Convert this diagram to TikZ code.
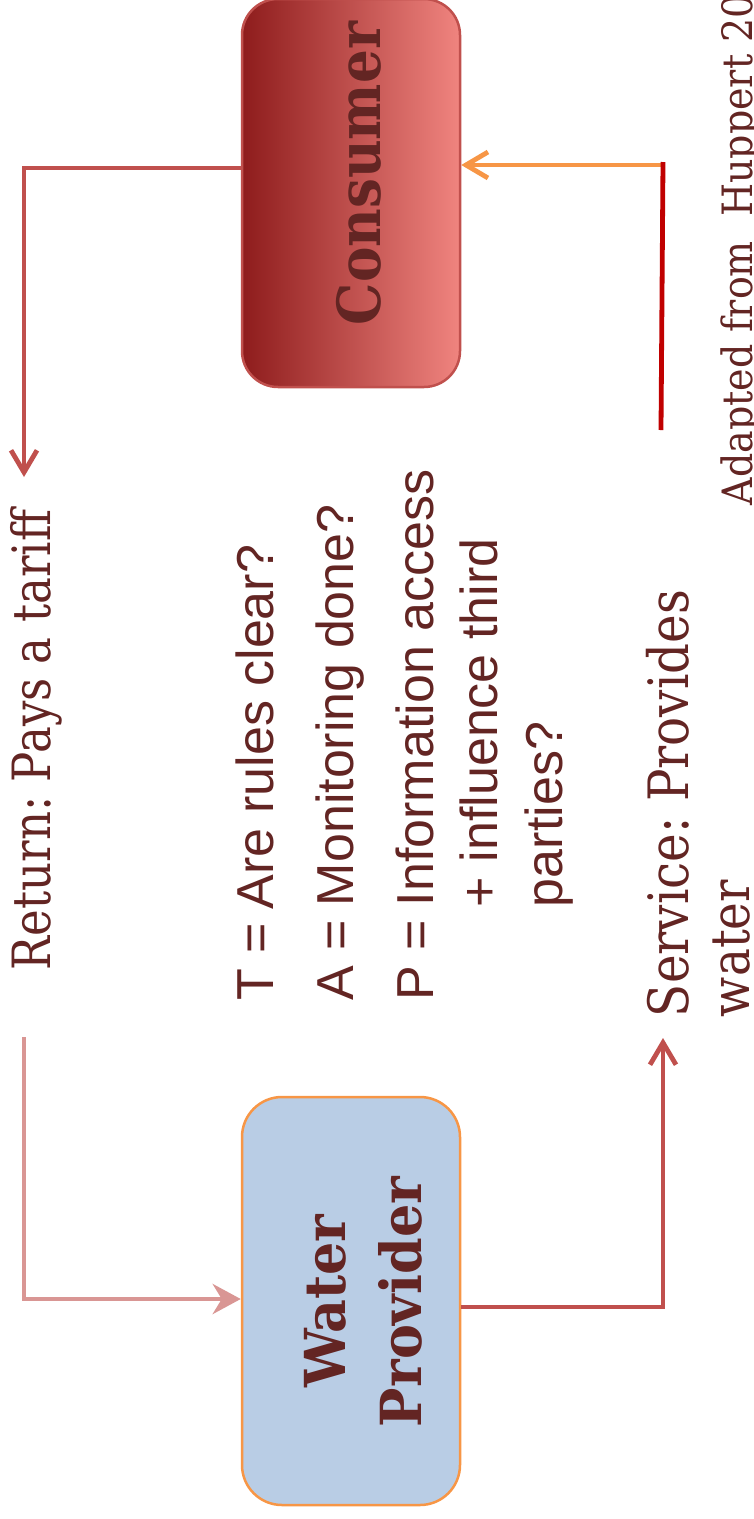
\documentclass[tikz,border=0pt]{standalone}
\usepackage{fontspec}
\usetikzlibrary{arrows.meta}
\newfontfamily\slabfont{DejaVu Serif}
\newfontfamily\tapfont{Liberation Sans}
\definecolor{txtc}{HTML}{632523}
\definecolor{redc}{HTML}{C0504D}
\definecolor{pinkc}{HTML}{D99694}
\definecolor{orangec}{HTML}{F79646}
\definecolor{darkredc}{HTML}{C00000}
\definecolor{bluefill}{HTML}{B9CDE5}
\definecolor{consdark}{HTML}{8E1C1C}
\definecolor{consmid}{HTML}{C45B5B}
\definecolor{conslight}{HTML}{F0847F}
\newcommand{\slabtext}[3]{\resizebox{#1}{!}{\scalebox{1}[#2]{\slabfont #3}}}
\begin{document}
\frenchspacing
\begin{tikzpicture}[x=1pt,y=-1pt,
  lbl/.style={inner sep=0pt, outer sep=0pt, rotate=90, anchor=base west, text=txtc},
  clbl/.style={inner sep=0pt, outer sep=0pt, rotate=90, anchor=base, text=txtc},
  consbox/.style={draw=redc, line width=2.5pt, rounded corners=36pt,
    minimum width=218pt, minimum height=388pt, inner sep=0pt,
    left color=consdark, middle color=consmid, right color=conslight},
  wpbox/.style={draw=orangec, line width=2.5pt, rounded corners=40pt,
    minimum width=218pt, minimum height=408pt, inner sep=0pt, fill=bluefill},
  redarr/.style={draw=redc, line width=4.8pt, -{Straight Barb[length=22pt,width=26pt]}},
  pinkarr/.style={draw=pinkc, line width=4.8pt, -{Stealth[length=28pt,width=30pt,inset=9pt]}},
  orangearr/.style={draw=orangec, line width=4.8pt, -{Straight Barb[length=22pt,width=26pt]}},
  plainline/.style={draw=darkredc, line width=4.8pt}
]
\useasboundingbox (0,0) rectangle (754,1519);
\clip (0,0) rectangle (754,1519);

% boxes
\node[consbox] (cons) at (351,193) {};
\node[wpbox] (wp) at (351,1301) {};

% box labels
\node[lbl] (consLabel) at (380,325) {\slabtext{303pt}{1.12}{\bfseries Consumer}};
\node[clbl] (wpLabelA) at (345,1301) {\slabtext{173pt}{1.08}{\bfseries Water}};
\node[clbl] (wpLabelB) at (421,1302) {\slabtext{250pt}{1.08}{\bfseries Provider}};

% side labels
\node[lbl] (retLabel) at (50,970) {\slabtext{460pt}{1.17}{Return: Pays a tariff}};
\node[lbl] (svcLabelA) at (688,1017) {\slabtext{427pt}{1.15}{Service: Provides}};
\node[lbl] (svcLabelB) at (749,1017) {\slabtext{137pt}{1.15}{water}};
\node[lbl] (adapted) at (752,505) {\scalebox{1}[1.1]{\slabfont\fontsize{38}{44}\selectfont Adapted from~~Huppert 2013}};

% T / A / P
\node[lbl] (tLine) at (273,1000) {\tapfont\fontsize{52}{65}\selectfont T = Are rules clear?};
\node[lbl] (aLine) at (353,1000) {\tapfont\fontsize{52}{65}\selectfont A = Monitoring done?};
\node[lbl] (pLine) at (433,1000) {\tapfont\fontsize{52}{65}\selectfont P = Information access};
\node[lbl] (pLine2) at (497,907) {\tapfont\fontsize{52}{65}\selectfont + influence third};
\node[lbl] (pLine3) at (562,907) {\tapfont\fontsize{52}{65}\selectfont parties?};

% connector coordinates
\coordinate (retCorner) at (24,168);
\coordinate (retTip) at (24,477);
\coordinate (payStart) at (24,1037);
\coordinate (payCorner) at (24,1299);
\coordinate (svcCorner) at (663,1307);
\coordinate (svcTip) at (663,1038);
\coordinate (supStart) at (663,165);
\coordinate (barTop) at (663,162);
\coordinate (barBot) at (661,430);

% connectors
\draw[redarr] (cons.west |- retCorner) -- (retCorner) -- (retTip);
\draw[pinkarr] (payStart) -- (payCorner) -- (wp.west |- payCorner);
\draw[redarr] (wp.east |- svcCorner) -- (svcCorner) -- (svcTip);
\draw[orangearr] (supStart) -- (cons.east |- supStart);
\draw[plainline] (barTop) -- (barBot);
\end{tikzpicture}
\end{document}
